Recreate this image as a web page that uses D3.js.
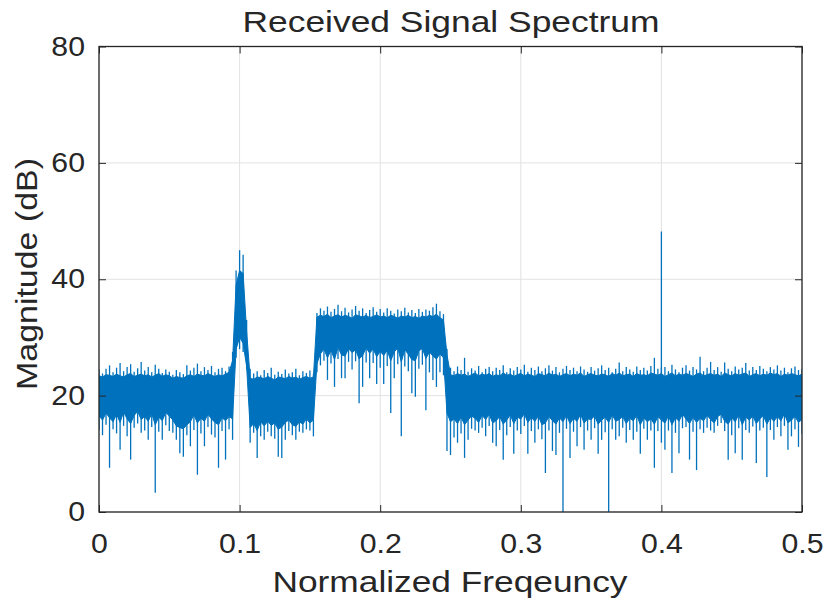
<!DOCTYPE html>
<html>
<head>
<meta charset="utf-8">
<script src="https://cdn.jsdelivr.net/npm/d3@7"></script>
<style>
    body { margin: 0; background: #fff; }
    text { font-family: "Liberation Sans", Arial, sans-serif; fill: #262626; }
</style>
</head>
<body>
<svg id="chart"></svg>
<script>
// spectrum, one sample every 0.0025 of normalized frequency
const freq = d3.range(201).map(function (i) { return i * 0.0025; });

// highest point of each sample (dB)
const bandTop = [
    // 0 - 0.0925
    24.5, 23.8, 24.6, 25.2, 24.0, 24.8, 25.6, 24.2, 24.9, 25.4,
    24.1, 24.7, 25.8, 24.3, 24.9, 24.0, 25.3, 24.6, 23.9, 24.5,
    24.1, 23.6, 24.4, 24.0, 23.7, 25.2, 24.3, 24.8, 25.5, 24.2,
    24.9, 24.4, 25.1, 24.0, 24.6, 24.8, 24.2, 25.0,
    // tone at 0.1
    27.5, 41.5, 45.0, 44.2, 33.0,
    // 0.105 - 0.1525
    24.6, 23.8, 24.2, 23.5, 24.4, 23.9, 24.8, 23.6, 24.1, 23.7,
    24.5, 23.8, 24.0, 24.6, 23.5, 24.2, 23.9, 24.3, 23.7,
    // 0.155 - 0.245 (signal band)
    34.2, 35.0, 34.6, 35.3, 34.4, 34.9, 35.6, 34.5, 35.1, 34.3,
    34.8, 35.4, 34.6, 35.0, 34.2, 34.7, 35.2, 34.4, 34.9, 34.3,
    35.0, 34.6, 34.1, 34.8, 34.5, 35.1, 34.3, 34.7, 34.2, 34.9,
    34.4, 34.8, 34.6, 35.2, 35.8, 34.5, 34.0,
    28.0,
    // 0.25 - 0.5
    24.8, 24.2, 25.0, 24.4, 26.5, 24.1, 24.7, 24.3, 25.1, 24.0,
    24.6, 24.9, 24.2, 24.8, 24.4, 25.2, 24.0, 24.7, 24.3, 24.9,
    24.5, 25.3, 24.1, 24.8, 24.4, 25.0, 24.2, 24.7, 25.2, 24.3,
    24.9, 24.0, 24.6, 25.1, 24.4, 24.8, 24.2, 25.0, 24.5, 24.1,
    24.9, 24.3, 24.7, 25.2, 24.4, 24.8, 24.0, 24.6, 25.7, 24.2,
    24.9, 24.5, 24.1, 25.0, 24.4, 24.8, 24.3, 25.1, 26.5, 24.6,
    24.9, 24.9, 24.2, 25.3, 24.5, 24.0, 24.8, 25.2, 24.3, 24.9,
    24.5, 26.7, 24.2, 24.8, 25.8, 24.4, 24.9, 24.1, 25.7, 24.6,
    24.2, 25.0, 24.5, 24.8, 25.6, 24.3, 24.9, 24.4, 25.1, 24.6,
    24.2, 24.9, 24.5, 25.2, 24.3, 24.8, 24.0, 24.7, 25.0, 24.4,
    24.6
];

// top of the dense (solid) part of the band (dB)
const bandSolid = [
    23.4, 23.2, 23.6, 23.5, 23.3, 23.7, 23.4, 23.2, 23.6, 23.8,
    23.3, 23.5, 23.7, 23.4, 23.6, 23.2, 23.5, 23.8, 23.3, 23.6,
    23.4, 23.0, 23.3, 23.1, 23.0, 23.4, 23.6, 23.3, 23.7, 23.5,
    23.4, 23.8, 23.5, 23.3, 23.6, 23.4, 23.7, 24.0,
    26.0, 39.0, 41.5, 41.0, 31.0,
    23.0, 22.8, 23.2, 23.1, 22.9, 23.3, 23.0, 22.7, 23.2, 23.1,
    22.9, 23.3, 23.0, 23.2, 22.8, 23.1, 23.3, 23.0, 23.2,
    33.5, 33.8, 33.6, 34.0, 33.4, 33.7, 33.9, 33.5, 33.8, 33.6,
    33.3, 33.9, 33.7, 33.5, 33.8, 33.4, 33.6, 33.9, 33.5, 33.7,
    33.4, 33.8, 33.6, 33.3, 33.7, 33.5, 33.8, 33.4, 33.6, 33.3,
    33.7, 33.5, 33.8, 33.6, 34.0, 33.4, 33.0,
    27.0,
    23.6, 23.4, 23.8, 23.5, 23.7, 23.3, 23.6, 23.9, 23.4, 23.7,
    23.5, 23.8, 23.3, 23.6, 23.4, 23.9, 23.5, 23.7, 23.3, 23.6,
    23.8, 23.4, 23.7, 23.5, 23.3, 23.8, 23.6, 23.4, 23.9, 23.5,
    23.7, 23.3, 23.6, 23.8, 23.4, 23.7, 23.5, 23.9, 23.3, 23.6,
    23.8, 23.5, 23.4, 23.7, 23.6, 23.3, 23.8, 23.5, 23.9, 23.4,
    23.6, 23.7, 23.3, 23.8, 23.5, 23.6, 23.4, 23.9, 23.7, 23.5,
    23.8, 23.3, 23.6, 23.9, 23.4, 23.7, 23.5, 23.8, 23.6, 23.3,
    23.7, 23.9, 23.4, 23.6, 23.8, 23.5, 23.7, 23.3, 23.9, 23.6,
    23.4, 23.8, 23.5, 23.7, 23.9, 23.3, 23.6, 23.8, 23.4, 23.7,
    23.5, 23.9, 23.6, 23.8, 23.3, 23.7, 23.5, 23.8, 23.6, 23.4,
    23.7
];

// bottom of the dense (solid) part of the band (dB)
const bandCore = [
    16.5, 15.8, 17.0, 16.2, 15.5, 16.8, 15.4, 17.2, 16.0, 15.2,
    16.6, 17.3, 15.9, 16.4, 15.6, 16.9, 15.0, 16.3, 15.7, 17.1,
    16.5, 15.8, 14.8, 14.5, 14.3, 15.0, 15.5, 16.7, 15.3, 16.1,
    15.6, 16.8, 16.0, 15.4, 15.0, 16.2, 15.7, 16.4,
    16.0, 28.0, 30.0, 29.0, 25.0,
    14.5, 15.2, 14.0, 15.5, 14.8, 15.6, 14.9, 15.3, 14.2, 14.6,
    15.4, 15.8, 15.0, 14.7, 15.5, 15.1, 16.0, 15.3, 15.8,
    25.5, 27.2, 28.0, 26.5, 27.8, 26.2, 28.3, 27.0, 26.8, 28.1,
    27.4, 27.9, 26.3, 26.9, 28.2, 27.3, 28.0, 26.7, 27.6, 26.9,
    27.8, 26.0, 27.5, 28.2, 25.8, 27.9, 27.1, 26.2, 26.0, 27.7,
    28.1, 26.4, 27.5, 26.8, 26.3, 27.2, 26.5,
    17.0,
    15.5, 16.0, 15.2, 16.3, 15.0, 15.8, 16.5, 16.1, 15.4, 16.6,
    15.9, 16.8, 15.3, 15.7, 16.4, 15.1, 15.8, 16.7, 15.2, 16.3,
    16.0, 16.9, 15.4, 16.2, 15.6, 16.5, 15.0, 15.3, 16.4, 15.7,
    15.1, 16.2, 15.5, 16.6, 15.2, 16.1, 15.6, 16.8, 15.3, 16.0,
    15.9, 16.5, 15.1, 15.8, 16.3, 15.4, 16.7, 15.6, 15.9, 16.4,
    15.2, 16.1, 15.7, 16.6, 15.0, 16.2, 15.5, 16.0, 15.1, 16.4,
    15.8, 15.3, 16.5, 15.0, 16.2, 15.6, 16.8, 16.0, 15.2, 16.3,
    15.4, 16.1, 15.7, 16.6, 15.9, 15.3, 16.4, 16.8, 15.6, 15.1,
    16.2, 15.5, 16.7, 15.0, 16.3, 15.8, 16.5, 15.2, 16.0, 16.6,
    15.1, 16.2, 15.6, 16.4, 15.7, 16.9, 15.3, 15.8, 16.4, 15.4,
    15.9
];

// deepest point of each sample (dB)
const bandMin = [
    14.0, 13.2, 15.0, 7.6, 14.2, 13.5, 10.7, 14.8, 13.0, 9.0,
    14.5, 15.2, 13.6, 14.0, 12.4, 14.6, 3.3, 13.8, 12.4, 14.9,
    13.9, 13.6, 12.4, 10.1, 9.5, 13.2, 11.3, 14.1, 6.4, 13.5,
    11.3, 14.6, 13.3, 12.8, 7.6, 13.9, 9.0, 14.2,
    12.4, 26.5, 28.0, 27.5, 24.5,
    11.9, 13.6, 9.3, 13.0, 12.4, 13.8, 13.0, 12.6, 9.5, 9.3,
    12.4, 13.9, 13.2, 12.4, 13.8, 13.6, 14.2, 14.0, 13.0,
    24.0, 25.2, 26.0, 22.7, 25.5, 21.5, 26.3, 23.0, 23.0, 25.8,
    24.5, 25.9, 18.7, 21.5, 25.7, 23.0, 25.6, 22.0, 24.8, 22.0,
    25.1, 17.0, 23.0, 25.4, 13.0, 25.0, 24.2, 20.4, 19.8, 24.6,
    25.3, 17.5, 24.0, 22.7, 21.5, 24.0, 23.5,
    10.5,
    9.8, 12.8, 11.9, 13.5, 9.3, 12.4, 14.3, 14.0, 13.6, 14.5,
    13.0, 14.8, 11.9, 11.3, 14.1, 9.0, 13.2, 14.6, 10.0, 14.0,
    13.4, 14.8, 10.0, 13.9, 11.9, 14.2, 12.5, 6.7, 14.0, 10.5,
    9.8, 13.6, 0.0, 14.3, 9.3, 13.8, 11.3, 14.6, 10.7, 14.0,
    12.4, 14.4, 10.0, 12.4, 13.7, 0.0, 14.2, 12.4, 13.0, 14.5,
    11.9, 14.1, 12.4, 13.8, 10.0, 14.3, 12.4, 14.0, 7.6, 13.9,
    11.9, 10.7, 14.0, 6.7, 13.6, 10.1, 14.4, 14.6, 9.0, 13.8,
    7.2, 14.2, 13.6, 14.5, 14.0, 13.6, 14.8, 15.3, 13.9, 9.0,
    13.2, 10.1, 14.4, 9.0, 14.1, 13.6, 14.7, 8.4, 14.0, 14.5,
    6.0, 14.1, 12.4, 14.6, 13.0, 14.8, 10.7, 13.0, 14.2, 11.2,
    13.5
];

// narrow tone that sticks out of the noise
const toneFreq = [0.4];
const tonePeak = [48.2];

const xTicks = [0, 0.1, 0.2, 0.3, 0.4, 0.5];
const xTickLabels = ["0", "0.1", "0.2", "0.3", "0.4", "0.5"];
const yTicks = [0, 20, 40, 60, 80];
const yTickLabels = ["0", "20", "40", "60", "80"];

const width = 829;
const height = 605;
const lineColor = "#0072BD";
const axisColor = "#262626";

let svg = d3.select("#chart")
    .attr("width", width)
    .attr("height", height);

let x = d3.scaleLinear().domain([0, 0.5]).range([99, 802]);
let y = d3.scaleLinear().domain([0, 80]).range([512, 46.5]);

svg.append("defs").append("clipPath")
    .attr("id", "plot-clip")
    .append("rect")
    .attr("x", x(0))
    .attr("y", y(80))
    .attr("width", x(0.5) - x(0))
    .attr("height", y(0) - y(80));

// grid
let grid = svg.append("g").attr("class", "grid");
grid.selectAll("line.gx")
    .data(xTicks)
    .enter().append("line")
    .attr("x1", function (d) { return x(d); })
    .attr("x2", function (d) { return x(d); })
    .attr("y1", y(0))
    .attr("y2", y(80))
    .attr("stroke", "#e2e2e2")
    .attr("stroke-width", 1);
grid.selectAll("line.gy")
    .data(yTicks)
    .enter().append("line")
    .attr("x1", x(0))
    .attr("x2", x(0.5))
    .attr("y1", function (d) { return y(d); })
    .attr("y2", function (d) { return y(d); })
    .attr("stroke", "#e2e2e2")
    .attr("stroke-width", 1);

let samples = freq.map(function (f, i) {
    return {f: f, top: bandTop[i], solid: bandSolid[i], core: bandCore[i], min: bandMin[i]};
});

let plot = svg.append("g")
    .attr("clip-path", "url(#plot-clip)");

let area = d3.area()
    .x(function (d) { return x(d.f); })
    .y0(function (d) { return y(d.core); })
    .y1(function (d) { return y(d.solid); });

plot.append("path")
    .datum(samples)
    .attr("d", area)
    .attr("fill", lineColor)
    .attr("stroke", lineColor)
    .attr("stroke-width", 1);

plot.selectAll("line.spike")
    .data(samples)
    .enter().append("line")
    .attr("class", "spike")
    .attr("x1", function (d) { return x(d.f); })
    .attr("x2", function (d) { return x(d.f); })
    .attr("y1", function (d) { return y(d.top); })
    .attr("y2", function (d) { return y(d.min); })
    .attr("stroke", lineColor)
    .attr("stroke-width", 1.3);

plot.selectAll("line.tone")
    .data(toneFreq)
    .enter().append("line")
    .attr("class", "tone")
    .attr("x1", function (d) { return x(d); })
    .attr("x2", function (d) { return x(d); })
    .attr("y1", function (d, i) { return y(tonePeak[i]); })
    .attr("y2", y(20))
    .attr("stroke", lineColor)
    .attr("stroke-width", 1.3);

// axes, ticks pointing inward on all four sides
function style_axis(g) {
    g.select(".domain").remove();
    g.selectAll(".tick line").attr("stroke", axisColor).attr("stroke-width", 1);
    g.selectAll(".tick text")
        .attr("fill", axisColor)
        .style("font-size", "27px");
}

let xAxis = svg.append("g")
    .attr("transform", "translate(0," + y(0) + ")")
    .call(d3.axisBottom(x).tickValues(xTicks)
        .tickFormat(function (d, i) { return xTickLabels[i]; })
        .tickSizeInner(-7).tickSizeOuter(0).tickPadding(22));
style_axis(xAxis);

let yAxis = svg.append("g")
    .attr("transform", "translate(" + x(0) + ",0)")
    .call(d3.axisLeft(y).tickValues(yTicks)
        .tickFormat(function (d, i) { return yTickLabels[i]; })
        .tickSizeInner(-7).tickSizeOuter(0).tickPadding(14));
style_axis(yAxis);

let topAxis = svg.append("g")
    .attr("transform", "translate(0," + y(80) + ")")
    .call(d3.axisTop(x).tickValues(xTicks).tickFormat("")
        .tickSizeInner(-7).tickSizeOuter(0));
style_axis(topAxis);

let rightAxis = svg.append("g")
    .attr("transform", "translate(" + x(0.5) + ",0)")
    .call(d3.axisRight(y).tickValues(yTicks).tickFormat("")
        .tickSizeInner(-7).tickSizeOuter(0));
style_axis(rightAxis);

svg.append("rect")
    .attr("x", x(0))
    .attr("y", y(80))
    .attr("width", x(0.5) - x(0))
    .attr("height", y(0) - y(80))
    .attr("fill", "none")
    .attr("stroke", axisColor)
    .attr("stroke-width", 1.3);

// the picture's glyphs are a bit wider than Liberation Sans
svg.selectAll(".tick text").each(function () {
    let len = this.getComputedTextLength();
    if (len > 0) {
        d3.select(this).attr("textLength", len * 1.12).attr("lengthAdjust", "spacingAndGlyphs");
    }
});

svg.append("text")
    .attr("x", 451)
    .attr("y", 32)
    .attr("text-anchor", "middle")
    .attr("textLength", 417)
    .attr("lengthAdjust", "spacingAndGlyphs")
    .style("font-size", "30px")
    .text("Received Signal Spectrum");

svg.append("text")
    .attr("x", 450)
    .attr("y", 592)
    .attr("text-anchor", "middle")
    .attr("textLength", 355)
    .attr("lengthAdjust", "spacingAndGlyphs")
    .style("font-size", "30px")
    .text("Normalized Freqeuncy");

svg.append("text")
    .attr("transform", "translate(37,274) rotate(-90)")
    .attr("text-anchor", "middle")
    .attr("textLength", 232)
    .attr("lengthAdjust", "spacingAndGlyphs")
    .style("font-size", "30px")
    .text("Magnitude (dB)");
</script>
</body>
</html>
